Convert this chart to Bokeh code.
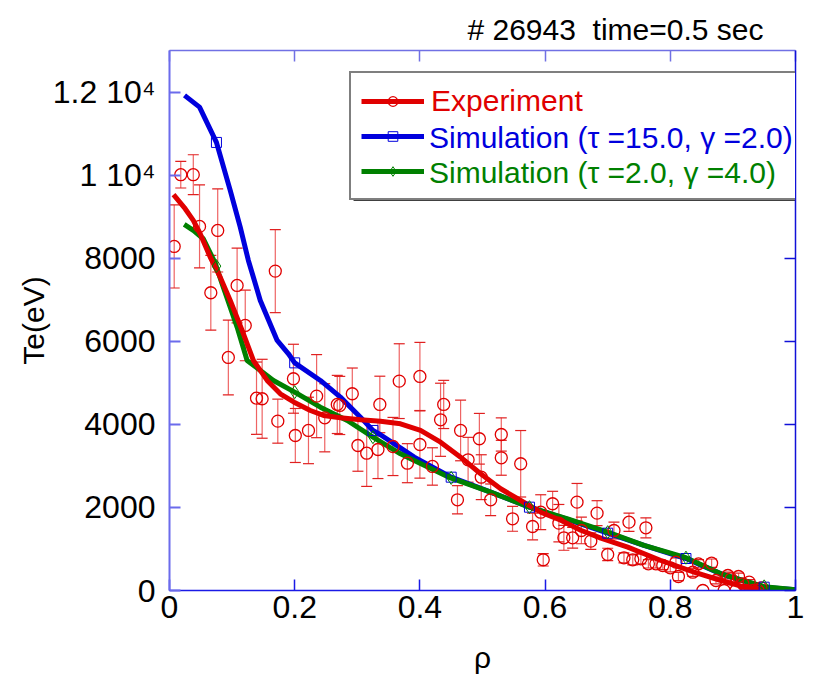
from bokeh.plotting import figure
from bokeh.models import (ColumnDataSource, Whisker, TeeHead, LinearAxis, FixedTicker,
                          Legend, LegendItem, Range1d)
from bokeh.embed import file_html
from bokeh.resources import INLINE

FONT = "Liberation Sans"
RED = "#e00000"
BLUE = "#0000dd"
GREEN = "#008000"

# ---------------- data ----------------
exp_rho = [0.0075, 0.018, 0.038, 0.048, 0.066, 0.077, 0.094, 0.108, 0.121, 0.139,
           0.148, 0.169, 0.173, 0.198, 0.201, 0.222, 0.235, 0.248, 0.268, 0.272,
           0.292, 0.301, 0.315, 0.333, 0.336, 0.357, 0.367, 0.380, 0.400, 0.400,
           0.420, 0.433, 0.438, 0.460, 0.465, 0.477, 0.495, 0.498, 0.513, 0.530,
           0.530, 0.548, 0.561, 0.580, 0.593, 0.597, 0.612, 0.622, 0.630, 0.644,
           0.651, 0.658, 0.673, 0.683, 0.700, 0.710, 0.726, 0.734, 0.740, 0.753,
           0.761, 0.765, 0.777, 0.788, 0.800, 0.809, 0.813, 0.836, 0.845, 0.852,
           0.866, 0.873, 0.886, 0.892, 0.897, 0.905, 0.909, 0.916, 0.921, 0.926,
           0.932, 0.940, 0.945]
exp_te = [8283, 10010, 10010, 8765, 7168, 8668, 5610, 7344, 6381, 4630,
          4616, 7689, 4077, 5098, 3732, 3853, 4679, 4158, 4479, 4455,
          4736, 3491, 3306, 3395, 4479, 3467, 5040, 3065, 5153, 3515,
          2986, 4110, 4479, 2184, 3853, 3147, 3653, 2728, 2184, 3756,
          3195, 1726, 3051, 1541, 1885, 740, 2088, 1621, 1269, 1269,
          2127, 1445, 1188, 1862, 867, 1445, 787, 1645, 739, 763,
          1509, 642, 642, 602, 546, 682, 337, 441, 642, 0,
          658, 241, 0, 361, 281, 0, 337, 161, 0, 201,
          0, 0, 64]
exp_err = [1000, 320, 480, 1000, 900, 1000, 900, 900, 850, 870,
           950, 1000, 530, 830, 650, 800, 1000, 820, 700, 700,
           620, 620, 800, 700, 680, 700, 900, 470, 820, 810,
           450, 880, 580, 340, 730, 540, 610, 540, 380, 400,
           420, 300, 800, 320, 420, 150, 300, 450, 300, 250,
           450, 320, 200, 300, 150, 200, 120, 220, 120, 120,
           240, 100, 100, 100, 100, 100, 100, 100, 100, 0,
           100, 80, 0, 80, 80, 0, 80, 60, 0, 60,
           0, 0, 40]

fit_rho = [0.0064, 0.025, 0.038, 0.049, 0.065, 0.081, 0.097, 0.116, 0.134, 0.156,
           0.177, 0.199, 0.225, 0.246, 0.273, 0.305, 0.337, 0.369, 0.401, 0.433,
           0.465, 0.497, 0.529, 0.561, 0.593, 0.625, 0.657, 0.689, 0.732, 0.785,
           0.838, 0.881, 0.919, 0.945]
fit_te = [9528, 9191, 8909, 8589, 8026, 7544, 6983, 6260, 5538, 5057,
          4736, 4534, 4334, 4214, 4158, 4110, 4077, 4014, 3853, 3571,
          3210, 2810, 2449, 2167, 1885, 1690, 1450, 1260, 1043, 722,
          441, 241, 80, 40]

sim1_rho = [0.024, 0.048, 0.075, 0.097, 0.113, 0.126, 0.145, 0.172, 0.190, 0.200,
            0.241, 0.273, 0.305, 0.325, 0.337, 0.367, 0.391, 0.450, 0.513, 0.575,
            0.636, 0.700, 0.758, 0.825, 0.881, 0.950, 1.000]
sim1_te = [11919, 11637, 10787, 9632, 8748, 7946, 6983, 6020, 5699, 5480,
           5057, 4655, 4173, 3853, 3750, 3451, 3210, 2728, 2367, 2006,
           1710, 1380, 1084, 770, 400, 80, 17]
sim1_mk_rho = [0.075, 0.200, 0.325, 0.450, 0.575, 0.700, 0.825, 0.950]
sim1_mk_te = [10787, 5480, 3853, 2728, 2006, 1380, 770, 80]

sim2_rho = [0.0235, 0.038, 0.054, 0.073, 0.084, 0.097, 0.108, 0.124, 0.166, 0.200,
            0.241, 0.284, 0.325, 0.369, 0.391, 0.449, 0.513, 0.575, 0.636, 0.700,
            0.758, 0.825, 0.881, 0.950, 1.000]
sim2_te = [8813, 8668, 8468, 7880, 7385, 6822, 6340, 5538, 5057, 4775,
           4414, 4093, 3691, 3291, 3130, 2710, 2367, 2006, 1726, 1404,
           1084, 790, 402, 90, 17]
sim2_mk_rho = [0.075, 0.200, 0.325, 0.450, 0.575, 0.700, 0.825, 0.950]
sim2_mk_te = [7810, 4775, 3691, 2710, 2006, 1404, 790, 100]

x_ticks = [0, 0.2, 0.4, 0.6, 0.8, 1.0]
x_tick_labels = ["0", "0.2", "0.4", "0.6", "0.8", "1"]
y_ticks = [0, 2000, 4000, 6000, 8000, 10000, 12000]
y_tick_labels = ["0", "2000", "4000", "6000", "8000", "1 10\u2074", "1.2 10\u2074"]

labels = ["Experiment", "Simulation (\u03c4 =15.0, \u03b3 =2.0)", "Simulation (\u03c4 =2.0, \u03b3 =4.0)"]
title_text = "# 26943\u00a0 time=0.5 sec"

# ---------------- figure ----------------
p = figure(width=805, height=676, output_backend="svg", toolbar_location=None,
           x_range=Range1d(0, 1), y_range=Range1d(0, 13000),
           min_border_left=169, min_border_right=10, min_border_top=50, min_border_bottom=78,
           x_axis_label="\u03c1", y_axis_label="Te(eV)")
p.grid.visible = False
p.outline_line_color = None
p.background_fill_color = "white"
p.border_fill_color = "white"

p.title.text = title_text
p.title.align = "right"
p.title.offset = 32
p.title.text_font = FONT
p.title.text_font_size = "30px"
p.title.text_font_style = "normal"
p.title.text_color = "black"

def style_axis(ax, color, width):
    ax.axis_line_color = color
    ax.axis_line_width = width
    ax.major_tick_line_color = color
    ax.major_tick_line_width = width
    ax.major_tick_in = 11
    ax.major_tick_out = 0
    ax.minor_tick_line_color = None
    ax.major_label_text_font = FONT
    ax.major_label_text_font_size = "32px"
    ax.major_label_text_color = "black"
    ax.axis_label_text_font = FONT
    ax.axis_label_text_font_size = "30px"
    ax.axis_label_text_font_style = "normal"
    ax.axis_label_text_color = "black"

xa = p.xaxis[0]
xa.ticker = FixedTicker(ticks=x_ticks)
xa.major_label_overrides = {t: l for t, l in zip(x_ticks, x_tick_labels)}
style_axis(xa, "#1a1ae6", 1.5)
xa.major_label_standoff = 5
xa.axis_label_standoff = 20

ya = p.yaxis[0]
ya.ticker = FixedTicker(ticks=y_ticks)
ya.major_label_overrides = {t: l for t, l in zip(y_ticks, y_tick_labels)}
style_axis(ya, "#6b6bec", 2)
ya.major_label_standoff = 14
ya.axis_label_standoff = 0

top = LinearAxis(ticker=FixedTicker(ticks=x_ticks),
                 major_label_overrides={t: "" for t in x_ticks})
style_axis(top, "#7070e4", 1.5)
top.major_label_standoff = 0
p.add_layout(top, "above")

right = LinearAxis(ticker=FixedTicker(ticks=y_ticks),
                   major_label_overrides={t: "" for t in y_ticks})
style_axis(right, "#1010d8", 1.5)
right.major_label_standoff = 0
p.add_layout(right, "right")

# ---------------- error bars ----------------
wx = [x for x, e in zip(exp_rho, exp_err) if e > 0]
wlo = [y - e for y, e in zip(exp_te, exp_err) if e > 0]
whi = [y + e for y, e in zip(exp_te, exp_err) if e > 0]
wsrc = ColumnDataSource(dict(x=wx, lower=wlo, upper=whi))
wh = Whisker(source=wsrc, base="x", lower="lower", upper="upper", dimension="height",
             line_color="#e83030", line_alpha=0.75, line_width=1.2,
             upper_head=TeeHead(size=11, line_color="#e02020", line_width=1.2),
             lower_head=TeeHead(size=11, line_color="#e02020", line_width=1.2))
p.add_layout(wh)

# ---------------- lines and markers ----------------
r_b = p.line(sim1_rho, sim1_te, line_color=BLUE, line_width=5)
r_g = p.line(sim2_rho, sim2_te, line_color=GREEN, line_width=5)
r_r = p.line(fit_rho, fit_te, line_color=RED, line_width=5)
m_r = p.scatter(exp_rho, exp_te, marker="circle", size=12, fill_color=None,
                line_color=RED, line_width=1.3)
m_b = p.scatter(sim1_mk_rho, sim1_mk_te, marker="square", size=10, fill_color=None,
                line_color=BLUE, line_width=1)
m_g = p.scatter(sim2_mk_rho, sim2_mk_te, marker="diamond", size=13, fill_color=None,
                line_color=GREEN, line_width=1)

# legend shadow (bottom strip visible)
p.quad(left=[0.294], right=[1.05], bottom=[9380], top=[12350],
       fill_color="black", line_color=None)

inv = p.line([], [], line_alpha=0)

common = dict(label_text_font=FONT, label_text_font_size="30px",
              glyph_width=63, glyph_height=24, label_height=35, label_standoff=7,
              spacing=0, margin=0)

box = Legend(items=[LegendItem(label=labels[0], renderers=[r_r, m_r]),
                    LegendItem(label=" ", renderers=[r_b, m_b]),
                    LegendItem(label=" ", renderers=[r_g, m_g])],
             location=(180, 390), padding=10, label_width=410,
             border_line_color="black", border_line_width=2,
             background_fill_color="white", background_fill_alpha=1,
             label_text_color=RED, **common)
p.add_layout(box)

l2 = Legend(items=[LegendItem(label=labels[1], renderers=[inv])],
            location=(190, 435), padding=0, border_line_color=None,
            background_fill_alpha=0, label_text_color=BLUE, **common)
p.add_layout(l2)
l3 = Legend(items=[LegendItem(label=labels[2], renderers=[inv])],
            location=(190, 400), padding=0, border_line_color=None,
            background_fill_alpha=0, label_text_color=GREEN, **common)
p.add_layout(l3)

open("out.html", "w").write(file_html(p, INLINE))
